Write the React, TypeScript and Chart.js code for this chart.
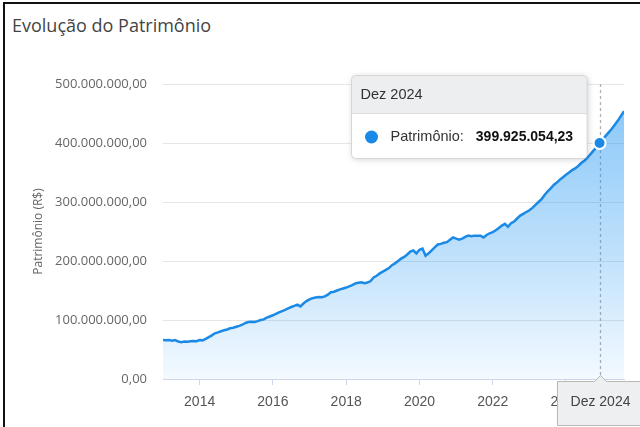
import { useEffect, useRef } from 'react';
import { Chart, registerables } from 'chart.js';

Chart.register(...registerables);

const CHART_TITLE = 'Evolução do Patrimônio';
const Y_AXIS_TITLE = 'Patrimônio (R$)';
const SERIES_LABEL = 'Patrimônio';
const START_YEAR = 2013;
const MONTHS_PT = ['Jan', 'Fev', 'Mar', 'Abr', 'Mai', 'Jun', 'Jul', 'Ago', 'Set', 'Out', 'Nov', 'Dez'];

// Monthly net worth, in millions of R$, Jan 2013 .. Aug 2025
const PATRIMONIO_MI = [
  66, 65.5, 66, 65, 66, 63.5, 62.5, 63.5, 63, 64, 64.5, 64,
  66, 65.5, 68, 71, 74, 77.5, 79, 81, 82.5, 84, 86, 87,
  88.5, 90, 92, 95, 96.5, 97, 96.5, 98, 100, 101, 104, 106,
  108, 110.5, 113, 115, 117, 119.5, 122, 124, 126, 123, 128, 132,
  135, 137, 138, 139, 138.5, 140, 143, 147, 148, 150, 152, 153.5,
  155, 157, 159, 162, 163, 164, 162.5, 163.5, 166, 172, 175, 179,
  182, 185, 188, 193, 196, 200, 204, 207, 211, 216, 218, 213,
  219, 221, 209, 213, 218, 223, 228, 229, 231, 232, 236, 240,
  238, 236, 238, 241, 243, 242, 243, 243, 243, 240, 244, 247,
  249, 252, 256, 260, 263, 258, 264, 267, 272, 277, 280, 283,
  286, 290, 295, 300, 305, 312, 318, 323, 329, 333, 338, 342,
  346, 350, 354, 357, 361, 366, 370, 375, 381, 387, 393, 399.92505423,
  406, 412, 418, 424, 431, 438, 446, 454,
];

const X_TICK_YEARS = [2014, 2016, 2018, 2020, 2022, 2024];
const Y_MIN_MI = 0;
const Y_MAX_MI = 500;
const Y_STEP_MI = 100;
const HIGHLIGHT_INDEX = 143; // Dez 2024

const LINE_COLOR = '#1a8ae6';
const TIP_FONT = '"Liberation Sans", Arial, sans-serif';

function fmtBR(v: number): string {
  const [intPart, dec] = v.toFixed(2).split('.');
  return intPart.replace(/\B(?=(\d{3})+(?!\d))/g, '.') + ',' + dec;
}

function monthLabel(i: number): string {
  return `${MONTHS_PT[i % 12]} ${START_YEAR + Math.floor(i / 12)}`;
}

function roundRect(ctx: CanvasRenderingContext2D, x: number, y: number, w: number, h: number, r: number) {
  ctx.beginPath();
  ctx.moveTo(x + r, y);
  ctx.lineTo(x + w - r, y);
  ctx.quadraticCurveTo(x + w, y, x + w, y + r);
  ctx.lineTo(x + w, y + h - r);
  ctx.quadraticCurveTo(x + w, y + h, x + w - r, y + h);
  ctx.lineTo(x + r, y + h);
  ctx.quadraticCurveTo(x, y + h, x, y + h - r);
  ctx.lineTo(x, y + r);
  ctx.quadraticCurveTo(x, y, x + r, y);
  ctx.closePath();
}

const overlayPlugin = {
  id: 'overlay',
  beforeDatasetsDraw(chart: any) {
    const pt = chart.getDatasetMeta(0).data[HIGHLIGHT_INDEX];
    if (!pt) return;
    const { top, bottom } = chart.chartArea;
    const ctx = chart.ctx as CanvasRenderingContext2D;
    const x = Math.round(pt.x) + 0.5;
    ctx.save();
    ctx.setLineDash([3, 3]);
    ctx.strokeStyle = '#b0b0b0';
    ctx.lineWidth = 1.3;
    ctx.beginPath();
    ctx.moveTo(x, top);
    ctx.lineTo(x, bottom);
    ctx.stroke();
    ctx.restore();
  },
  afterDraw(chart: any) {
    const pt = chart.getDatasetMeta(0).data[HIGHLIGHT_INDEX];
    if (!pt) return;
    const ctx = chart.ctx as CanvasRenderingContext2D;
    const { bottom } = chart.chartArea;
    const header = monthLabel(HIGHLIGHT_INDEX);
    const valueText = fmtBR(PATRIMONIO_MI[HIGHLIGHT_INDEX] * 1e6);
    const labelText = SERIES_LABEL + ':';

    // ---- tooltip box ----
    ctx.save();
    ctx.font = `14.5px ${TIP_FONT}`;
    const labelW = ctx.measureText(labelText).width;
    ctx.font = `bold 14px ${TIP_FONT}`;
    const valueW = ctx.measureText(valueText).width;
    const padL = 9;
    const dotGap = 39;
    const gap = 12;
    const padR = 14;
    const w = dotGap + labelW + gap + valueW + padR;
    const h = 83;
    const bx = Math.round(pt.x - 13 - w) + 0.5;
    const by = Math.round(pt.y - 68) + 0.5;
    const headerH = 38;

    ctx.shadowColor = 'rgba(0,0,0,0.18)';
    ctx.shadowBlur = 6;
    ctx.shadowOffsetX = 1;
    ctx.shadowOffsetY = 1;
    roundRect(ctx, bx, by, w, h, 4);
    ctx.fillStyle = '#ffffff';
    ctx.fill();
    ctx.shadowColor = 'transparent';
    ctx.save();
    roundRect(ctx, bx, by, w, h, 4);
    ctx.clip();
    ctx.fillStyle = '#eceeef';
    ctx.fillRect(bx, by, w, headerH);
    ctx.strokeStyle = '#dcdcdc';
    ctx.lineWidth = 1;
    ctx.beginPath();
    ctx.moveTo(bx, by + headerH);
    ctx.lineTo(bx + w, by + headerH);
    ctx.stroke();
    ctx.restore();
    roundRect(ctx, bx, by, w, h, 4);
    ctx.strokeStyle = '#d6d6d6';
    ctx.lineWidth = 1;
    ctx.stroke();

    ctx.fillStyle = '#333333';
    ctx.textBaseline = 'middle';
    ctx.textAlign = 'left';
    ctx.font = `14.5px ${TIP_FONT}`;
    ctx.fillText(header, bx + padL, by + headerH / 2);

    const rowY = by + headerH + (h - headerH) / 2 + 1;
    ctx.beginPath();
    ctx.arc(bx + 20, rowY, 6.5, 0, Math.PI * 2);
    ctx.fillStyle = LINE_COLOR;
    ctx.fill();

    ctx.fillStyle = '#333333';
    ctx.font = `14.5px ${TIP_FONT}`;
    ctx.fillText(labelText, bx + dotGap, rowY);
    ctx.font = `bold 14px ${TIP_FONT}`;
    ctx.fillStyle = '#111111';
    ctx.fillText(valueText, bx + dotGap + labelW + gap, rowY);
    ctx.restore();

    // ---- crosshair label on x axis ----
    ctx.save();
    const lw = 85;
    const lx = Math.round(pt.x - lw / 2) + 0.5;
    const ly = bottom + 2.5;
    const lh = 44;
    const cx = Math.round(pt.x) + 0.5;
    ctx.beginPath();
    ctx.moveTo(lx, ly);
    ctx.lineTo(cx - 6, ly);
    ctx.lineTo(cx, ly - 6);
    ctx.lineTo(cx + 6, ly);
    ctx.lineTo(lx + lw, ly);
    ctx.lineTo(lx + lw, ly + lh);
    ctx.lineTo(lx, ly + lh);
    ctx.closePath();
    ctx.fillStyle = '#eeeff0';
    ctx.fill();
    ctx.strokeStyle = '#b8b8b8';
    ctx.lineWidth = 1;
    ctx.stroke();
    ctx.fillStyle = '#444444';
    ctx.font = `14px ${TIP_FONT}`;
    ctx.textAlign = 'center';
    ctx.textBaseline = 'middle';
    ctx.fillText(header, cx, ly + 21);
    ctx.restore();
  },
};

export default function App() {
  const canvasRef = useRef<HTMLCanvasElement | null>(null);

  useEffect(() => {
    const canvas = canvasRef.current;
    if (!canvas) return;
    const ctx = canvas.getContext('2d')!;
    const grad = ctx.createLinearGradient(0, 84, 0, 379);
    grad.addColorStop(0, 'rgba(33,150,243,0.55)');
    grad.addColorStop(0.55, 'rgba(33,150,243,0.30)');
    grad.addColorStop(1, 'rgba(33,150,243,0.05)');

    const data = PATRIMONIO_MI.map((v, i) => ({ x: START_YEAR + i / 12, y: v }));

    const chart = new Chart(canvas, {
      type: 'line',
      data: {
        datasets: [
          {
            label: SERIES_LABEL,
            data,
            borderColor: LINE_COLOR,
            borderWidth: 2.5,
            backgroundColor: grad,
            fill: 'origin',
            tension: 0,
            pointRadius: (c: any) => (c.dataIndex === HIGHLIGHT_INDEX ? 6 : 0),
            pointHoverRadius: 0,
            pointBackgroundColor: LINE_COLOR,
            pointBorderColor: '#ffffff',
            pointBorderWidth: 2,
          },
        ],
      },
      options: {
        responsive: false,
        animation: false,
        events: [],
        layout: { padding: { left: 27, right: 16, top: 84, bottom: 8 } },
        plugins: {
          legend: { display: false },
          tooltip: { enabled: false },
          title: { display: false },
        },
        scales: {
          x: {
            type: 'linear',
            min: START_YEAR,
            max: START_YEAR + (PATRIMONIO_MI.length - 1) / 12,
            afterBuildTicks: (s: any) => {
              s.ticks = X_TICK_YEARS.map((v) => ({ value: v }));
            },
            afterFit: (s: any) => {
              s.height = 40;
            },
            grid: {
              drawOnChartArea: false,
              drawTicks: true,
              tickLength: 6,
              color: '#ccd6eb',
            },
            border: { display: true, color: '#ccd6eb', width: 1 },
            ticks: {
              autoSkip: false,
              maxRotation: 0,
              padding: 9,
              color: '#555555',
              font: { family: '"Liberation Sans", Arial, sans-serif', size: 14 },
              callback: (v: any) => String(v),
            },
          },
          y: {
            min: Y_MIN_MI,
            max: Y_MAX_MI,
            afterFit: (s: any) => {
              s.width = 136;
            },
            grid: { color: '#e6e6e6', drawTicks: false },
            border: { display: false },
            ticks: {
              stepSize: Y_STEP_MI,
              padding: 16,
              color: '#666666',
              font: { family: '"Open Sans", sans-serif', size: 13 },
              callback: (v: any) => fmtBR(Number(v) * 1e6),
            },
            title: {
              display: true,
              text: Y_AXIS_TITLE,
              color: '#666666',
              font: { family: '"Open Sans", sans-serif', size: 12 },
              padding: { top: 4, bottom: 4 },
            },
          },
        },
      },
      plugins: [overlayPlugin],
    } as any);

    return () => chart.destroy();
  }, []);

  return (
    <div style={{ position: 'fixed', left: 0, top: 0, width: 640, height: 427, background: '#fff', overflow: 'hidden' }}>
      <div
        style={{
          position: 'absolute',
          left: 3,
          top: 2,
          width: 700,
          height: 500,
          borderLeft: '2px solid #111',
          borderTop: '2px solid #111',
        }}
      />
      <div
        style={{
          position: 'absolute',
          left: 12,
          top: 13,
          fontFamily: '"Open Sans", sans-serif',
          fontSize: 18,
          color: '#444',
          whiteSpace: 'nowrap',
        }}
      >
        {CHART_TITLE}
      </div>
      <canvas ref={canvasRef} width={640} height={427} style={{ position: 'absolute', left: 0, top: 0, width: 640, height: 427 }} />
    </div>
  );
}
